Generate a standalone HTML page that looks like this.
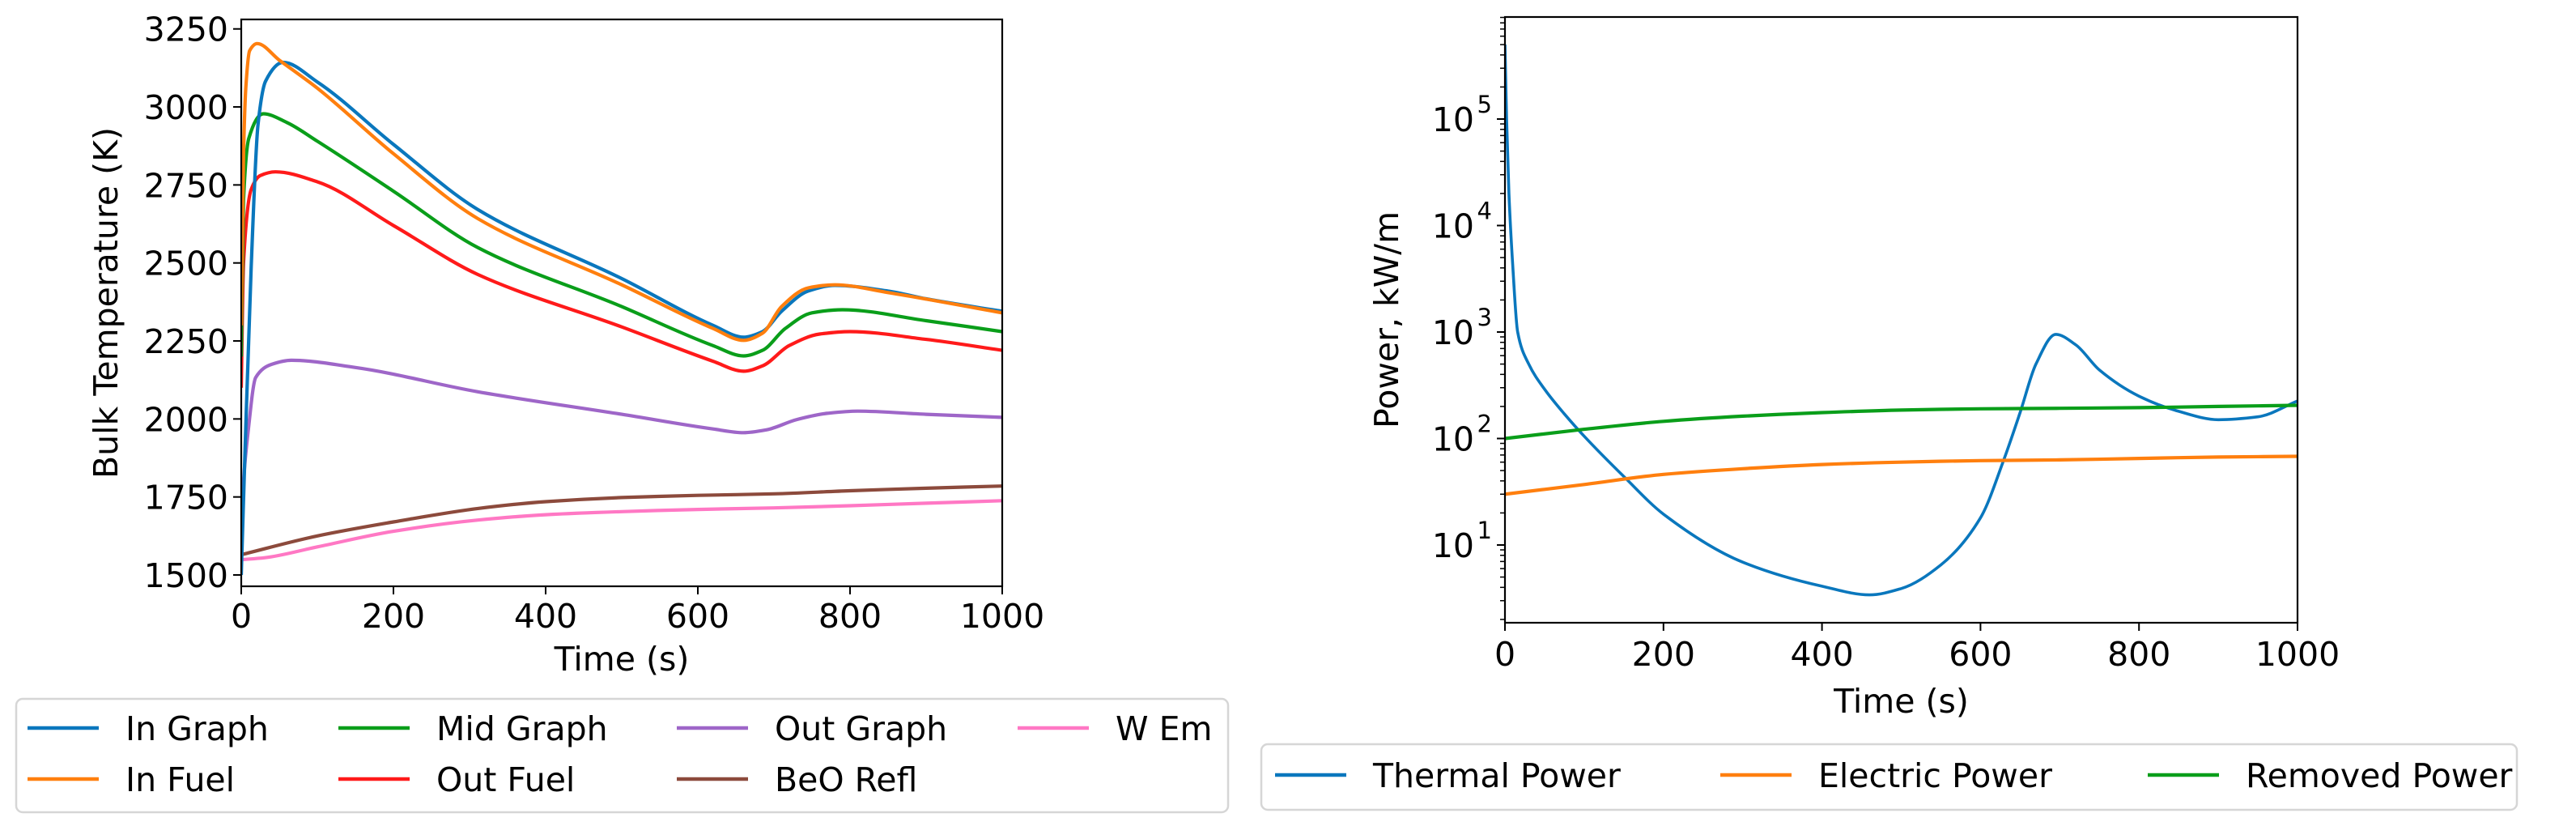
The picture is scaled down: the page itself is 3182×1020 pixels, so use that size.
<!DOCTYPE html>
<html><head><meta charset="utf-8"><style>
html,body{margin:0;padding:0;background:#fff;}
svg{display:block;font-family:"DejaVu Sans","Liberation Sans",sans-serif;}
</style></head><body>
<svg id="fig" width="3182" height="1020" viewBox="0 0 3182 1020" xmlns="http://www.w3.org/2000/svg">
<g id="left"></g>
<g id="right"></g>
</svg>
<script>
// ---- Left chart data ----
const tempTicksY = [1500, 1750, 2000, 2250, 2500, 2750, 3000, 3250];
const timeTicks = [0, 200, 400, 600, 800, 1000];
const tempSeriesNames = ["In Graph", "In Fuel", "Mid Graph", "Out Fuel", "Out Graph", "BeO Refl", "W Em"];
const inGraphT = [0, 5, 13, 22, 32, 55, 100, 200, 311, 500, 620, 660, 685, 710, 745, 780, 850, 900, 1000];
const inGraphV = [1500, 1900, 2481, 2943, 3083, 3143, 3080, 2880, 2671, 2450, 2300, 2262, 2280, 2345, 2410, 2428, 2410, 2385, 2345];
const inFuelT = [0, 3, 6, 11, 21, 50, 100, 200, 311, 500, 620, 660, 685, 710, 745, 780, 850, 1000];
const inFuelV = [2300, 2850, 3060, 3180, 3203, 3150, 3060, 2850, 2642, 2430, 2290, 2252, 2275, 2360, 2420, 2430, 2405, 2340];
const midGraphT = [0, 3, 10, 29, 60, 100, 200, 311, 500, 620, 660, 685, 715, 750, 790, 900, 1000];
const midGraphV = [2200, 2700, 2900, 2978, 2950, 2890, 2730, 2549, 2360, 2235, 2202, 2220, 2290, 2340, 2350, 2315, 2280];
const outFuelT = [0, 3, 13, 25, 45, 100, 200, 311, 500, 620, 660, 685, 720, 760, 800, 900, 1000];
const outFuelV = [2100, 2500, 2735, 2780, 2792, 2760, 2620, 2463, 2295, 2185, 2153, 2170, 2235, 2272, 2280, 2255, 2220];
const outGraphT = [0, 3, 9, 19, 40, 66, 150, 311, 500, 620, 660, 690, 730, 770, 810, 900, 1000];
const outGraphV = [1645, 1800, 1960, 2133, 2175, 2188, 2165, 2087, 2015, 1968, 1956, 1965, 1998, 2018, 2025, 2015, 2005];
const beoT = [0, 100, 200, 311, 400, 500, 600, 700, 800, 900, 1000];
const beoV = [1565, 1625, 1670, 1713, 1735, 1748, 1755, 1760, 1770, 1778, 1785];
const wemT = [0, 30, 100, 200, 311, 400, 500, 600, 700, 800, 900, 1000];
const wemV = [1549, 1555, 1590, 1640, 1676, 1693, 1703, 1710, 1715, 1722, 1730, 1738];

// ---- Right chart data ----
const powerTickExps = [1, 2, 3, 4, 5];
const powerSeriesNames = ["Thermal Power", "Electric Power", "Removed Power"];
const thermalT = [0, 2, 5, 10, 16, 30, 50, 75, 100, 150, 200, 300, 400, 460, 500, 550, 600, 630, 650, 670, 695, 720, 750, 800, 850, 900, 950, 1000];
const thermalV = [500000, 100000, 20000, 4000, 1000, 500, 290, 170, 105, 44, 19.5, 6.9, 4.1, 3.4, 3.9, 6.5, 18, 65, 175, 500, 950, 760, 440, 250, 180, 150, 160, 225];
const electricT = [0, 100, 200, 300, 400, 500, 600, 700, 800, 900, 1000];
const electricV = [30, 37, 46, 52, 57, 60, 62, 63, 65, 67, 68];
const removedT = [0, 100, 200, 300, 400, 500, 600, 700, 800, 900, 1000];
const removedV = [100, 122, 145, 162, 175, 185, 190, 192, 195, 200, 205];

const NS = "http://www.w3.org/2000/svg";
function mk(tag, attrs, parent) {
  const e = document.createElementNS(NS, tag);
  for (const k in attrs) e.setAttribute(k, attrs[k]);
  parent.appendChild(e);
  return e;
}
// monotone cubic (Fritsch-Carlson) in pixel space, x increasing
function smoothPath(pts) {
  const n = pts.length;
  const dx = [], dy = [], m = [];
  for (let i = 0; i < n - 1; i++) { dx.push(pts[i+1][0] - pts[i][0]); dy.push(pts[i+1][1] - pts[i][1]); m.push(dy[i] / (dx[i] || 1e-6)); }
  const t = [m[0]];
  for (let i = 1; i < n - 1; i++) {
    if (m[i-1] * m[i] <= 0) t.push(0);
    else { const w1 = 2*dx[i] + dx[i-1], w2 = dx[i] + 2*dx[i-1]; t.push((w1 + w2) / (w1 / m[i-1] + w2 / m[i])); }
  }
  t.push(m[n-2]);
  let d = "M" + pts[0][0].toFixed(1) + "," + pts[0][1].toFixed(1);
  for (let i = 0; i < n - 1; i++) {
    const h = dx[i] / 3;
    d += " C" + (pts[i][0] + h).toFixed(1) + "," + (pts[i][1] + t[i]*h).toFixed(1) + " " + (pts[i+1][0] - h).toFixed(1) + "," + (pts[i+1][1] - t[i+1]*h).toFixed(1) + " " + pts[i+1][0].toFixed(1) + "," + pts[i+1][1].toFixed(1);
  }
  return d;
}

// ===== Left chart =====
const L = document.getElementById("left");
const lx0 = 298, lx1 = 1238, ly0 = 24, ly1 = 724;
const lxS = t => lx0 + (t / 1000) * (lx1 - lx0);
const lyS = v => 710 - (v - 1500) * 0.3853;
const tempColors = ["#0a77bd", "#ff7f0e", "#0a9e1a", "#ff1a1a", "#9e66c8", "#8c4a3c", "#ff78c4"];
const tempT = [inGraphT, inFuelT, midGraphT, outFuelT, outGraphT, beoT, wemT];
const tempV = [inGraphV, inFuelV, midGraphV, outFuelV, outGraphV, beoV, wemV];
const lclip = mk("clipPath", {id: "lclip"}, L);
mk("rect", {x: lx0, y: ly0, width: lx1 - lx0, height: ly1 - ly0}, lclip);
const lines = mk("g", {"clip-path": "url(#lclip)"}, L);
const drawOrder = [6, 5, 4, 3, 2, 0, 1];
drawOrder.forEach(i => {
  const pts = tempT[i].map((t, j) => [lxS(t), lyS(tempV[i][j])]);
  const p = mk("path", {d: smoothPath(pts), fill: "none", stroke: tempColors[i], "stroke-width": 4.2, "stroke-linejoin": "round"}, lines);
  
  
});
const lframe = mk("rect", {x: lx0, y: ly0, width: lx1 - lx0, height: ly1 - ly0, fill: "none", stroke: "#000", "stroke-width": 2.2}, L);


tempTicksY.forEach(v => {
  const y = lyS(v);
  mk("line", {x1: lx0 - 10, x2: lx0, y1: y, y2: y, stroke: "#000", "stroke-width": 2}, L);
  const tx = mk("text", {x: lx0 - 16, y: y + 15, "text-anchor": "end", "font-size": 41}, L);
  tx.textContent = v;
  
  
});
timeTicks.forEach(t => {
  const x = lxS(t);
  mk("line", {x1: x, x2: x, y1: ly1, y2: ly1 + 10, stroke: "#000", "stroke-width": 2}, L);
  const tx = mk("text", {x: x, y: 775, "text-anchor": "middle", "font-size": 41}, L);
  tx.textContent = t;
  
  
});
const lxl = mk("text", {x: (lx0 + lx1) / 2, y: 828, "text-anchor": "middle", "font-size": 41}, L);
lxl.textContent = "Time (s)";


const lyl = mk("text", {x: 0, y: 0, "text-anchor": "middle", "font-size": 41, transform: "translate(145,374) rotate(-90)"}, L);
lyl.textContent = "Bulk Temperature (K)";


// legend
const lleg = mk("g", {}, L);


mk("rect", {x: 20, y: 863, width: 1497, height: 140, rx: 8, fill: "#fff", stroke: "#d6d6d6", "stroke-width": 2.5}, lleg);
const colX = [34, 418, 836, 1257];
const rowY = [899, 962];
tempSeriesNames.forEach((n, i) => {
  const col = Math.floor(i / 2), row = i % 2;
  const cx = colX[col], cy = rowY[row];
  const g = mk("g", {}, lleg);
  
  
  mk("line", {x1: cx, x2: cx + 88, y1: cy, y2: cy, stroke: tempColors[i], "stroke-width": 4.5}, g);
  const tx = mk("text", {x: cx + 121, y: cy + 15, "font-size": 41}, g);
  tx.textContent = n;
});

// ===== Right chart =====
const R = document.getElementById("right");
const rx0 = 1859, rx1 = 2838, ry0 = 21, ry1 = 769;
const rxS = t => rx0 + (t / 1000) * (rx1 - rx0);
const ryS = v => 147 - (Math.log10(v) - 5) * 131.5;
const powColors = ["#0a77bd", "#ff7f0e", "#0a9e1a"];
const powT = [thermalT, electricT, removedT];
const powV = [thermalV, electricV, removedV];
const rclip = mk("clipPath", {id: "rclip"}, R);
mk("rect", {x: rx0, y: ry0, width: rx1 - rx0, height: ry1 - ry0}, rclip);
const rlines = mk("g", {"clip-path": "url(#rclip)"}, R);
[0, 1, 2].forEach(i => {
  const pts = powT[i].map((t, j) => [rxS(t), ryS(powV[i][j])]);
  const p = mk("path", {d: smoothPath(pts), fill: "none", stroke: powColors[i], "stroke-width": i === 0 ? 3.6 : 4.2, "stroke-linejoin": "round"}, rlines);
  
  
});
const rframe = mk("rect", {x: rx0, y: ry0, width: rx1 - rx0, height: ry1 - ry0, fill: "none", stroke: "#000", "stroke-width": 2.2}, R);


for (let e = 0; e <= 5; e++) {
  for (let m = 2; m <= 9; m++) {
    const y = ryS(m * Math.pow(10, e));
    if (y < ry0 || y > ry1) continue;
    mk("line", {x1: rx0 - 6, x2: rx0, y1: y, y2: y, stroke: "#000", "stroke-width": 1.5}, R);
  }
}
powerTickExps.forEach(e => {
  const y = ryS(Math.pow(10, e));
  mk("line", {x1: rx0 - 10, x2: rx0, y1: y, y2: y, stroke: "#000", "stroke-width": 2}, R);
  const tx = mk("text", {x: rx0 - 38, y: y + 15, "text-anchor": "end", "font-size": 41}, R);
  tx.textContent = "10";
  
  
  const sp = mk("text", {x: rx0 - 16, y: y - 8, "text-anchor": "end", "font-size": 29}, R);
  sp.textContent = e;
});
timeTicks.forEach(t => {
  const x = rxS(t);
  mk("line", {x1: x, x2: x, y1: ry1, y2: ry1 + 10, stroke: "#000", "stroke-width": 2}, R);
  const tx = mk("text", {x: x, y: 822, "text-anchor": "middle", "font-size": 41}, R);
  tx.textContent = t;
  
  
});
const rxl = mk("text", {x: (rx0 + rx1) / 2, y: 880, "text-anchor": "middle", "font-size": 41}, R);
rxl.textContent = "Time (s)";


const ryl = mk("text", {x: 0, y: 0, "text-anchor": "middle", "font-size": 41, transform: "translate(1727,395) rotate(-90)"}, R);
ryl.textContent = "Power, kW/m";


const rleg = mk("g", {}, R);


mk("rect", {x: 1558, y: 919, width: 1551, height: 81, rx: 8, fill: "#fff", stroke: "#d6d6d6", "stroke-width": 2.5}, rleg);
const rHandleX = [1575, 2125, 2653];
powerSeriesNames.forEach((n, i) => {
  const g = mk("g", {}, rleg);
  
  
  mk("line", {x1: rHandleX[i], x2: rHandleX[i] + 88, y1: 957, y2: 957, stroke: powColors[i], "stroke-width": 4.5}, g);
  const tx = mk("text", {x: rHandleX[i] + 121, y: 972, "font-size": 41}, g);
  tx.textContent = n;
});
</script>
</body></html>
